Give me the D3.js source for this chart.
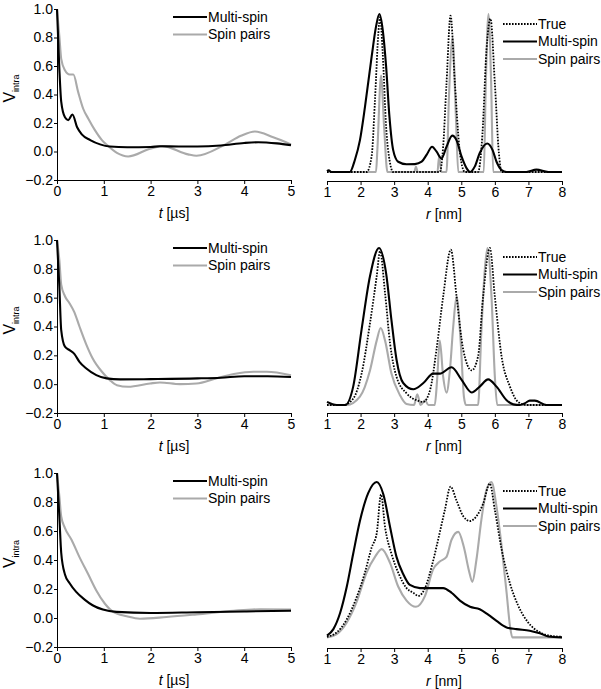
<!DOCTYPE html>
<html><head><meta charset="utf-8">
<script src="https://cdn.jsdelivr.net/npm/d3@7"></script>
<style>
body{margin:0;background:#fff;}
svg{display:block;font-family:"Liberation Sans",Arial,sans-serif;}
</style></head>
<body>
<svg id="chart" width="601" height="689"></svg>
<script>
// ---------- DATA ----------
const seriesNames = ["True", "Multi-spin", "Spin pairs"];
const tTicks = [0, 1, 2, 3, 4, 5];
const vTicks = [-0.2, 0.0, 0.2, 0.4, 0.6, 0.8, 1.0];
const rTicks = [1, 2, 3, 4, 5, 6, 7, 8];

// Row 1, time domain
const r1tMultiT = [0, 0.05, 0.09, 0.17, 0.24, 0.33, 0.43, 0.53, 0.71, 0.92, 1.13, 1.5, 2.0, 2.2, 2.6, 3.0, 3.5, 4.0, 4.3, 4.7, 5.0];
const r1tMultiV = [1.0, 0.58, 0.35, 0.24, 0.22, 0.26, 0.17, 0.12, 0.08, 0.05, 0.035, 0.03, 0.032, 0.037, 0.035, 0.035, 0.042, 0.06, 0.065, 0.057, 0.045];
const r1tPairsT = [0, 0.05, 0.09, 0.17, 0.27, 0.35, 0.45, 0.56, 0.67, 0.81, 0.96, 1.07, 1.28, 1.52, 1.99, 2.25, 2.8, 2.98, 3.57, 3.93, 4.23, 4.62, 5.0];
const r1tPairsV = [1.0, 0.81, 0.65, 0.57, 0.54, 0.54, 0.42, 0.30, 0.23, 0.15, 0.08, 0.045, -0.01, -0.035, 0.02, 0.038, -0.02, -0.03, 0.045, 0.11, 0.14, 0.10, 0.05];

// Row 1, distance domain
const r1rTrueR = [1.0, 2.18, 2.33, 2.43, 2.53, 2.58, 2.66, 2.76, 2.88, 2.97, 4.36, 4.46, 4.56, 4.68, 4.81, 4.94, 5.06, 5.11, 5.5, 5.63, 5.75, 5.87, 6.0, 6.12, 6.2, 8.0];
const r1rTrueV = [0, 0, 0.1, 0.46, 0.88, 0.98, 0.75, 0.29, 0.055, 0, 0, 0.16, 0.56, 0.99, 0.56, 0.16, 0.013, 0, 0, 0.24, 0.77, 0.97, 0.56, 0.12, 0, 0];
const r1rMultiR = [1.0, 1.05, 1.14, 1.68, 1.83, 1.98, 2.13, 2.33, 2.46, 2.56, 2.66, 2.76, 2.86, 2.97, 3.12, 3.37, 3.62, 3.82, 3.97, 4.13, 4.26, 4.41, 4.56, 4.73, 4.86, 5.01, 5.16, 5.26, 5.4, 5.55, 5.77, 5.93, 6.05, 6.2, 6.35, 6.94, 7.24, 7.59, 8.0];
const r1rMultiV = [0.005, 0.01, 0, 0, 0.076, 0.2, 0.41, 0.73, 0.92, 1.0, 0.9, 0.67, 0.35, 0.14, 0.065, 0.049, 0.05, 0.065, 0.11, 0.16, 0.13, 0.086, 0.16, 0.23, 0.2, 0.097, 0.023, 0, 0.034, 0.12, 0.18, 0.14, 0.065, 0.013, 0, 0, 0.015, 0, 0];
const r1rPairsR = [1.0, 2.46, 2.5, 2.61, 2.7, 2.8, 3.6, 3.65, 3.7, 4.29, 4.34, 4.41, 4.56, 4.63, 4.74, 4.84, 4.91, 5.67, 5.73, 5.81, 5.89, 5.95, 8.0];
const r1rPairsV = [0, 0, 0.14, 0.61, 0.29, 0, 0, 0.034, 0, 0, 0.1, 0, 0, 0.46, 0.85, 0.35, 0, 0, 0.56, 1.0, 0.56, 0, 0];

// Row 2, time domain
const r2tMultiT = [0, 0.05, 0.09, 0.17, 0.27, 0.37, 0.48, 0.62, 0.84, 1.06, 1.35, 2.0, 3.0, 3.5, 4.0, 4.5, 5.0];
const r2tMultiV = [1.0, 0.68, 0.375, 0.26, 0.236, 0.21, 0.155, 0.11, 0.063, 0.04, 0.033, 0.035, 0.04, 0.045, 0.055, 0.055, 0.05];
const r2tPairsT = [0, 0.05, 0.09, 0.17, 0.27, 0.37, 0.48, 0.62, 0.76, 0.96, 1.13, 1.28, 1.52, 1.99, 2.2, 2.63, 2.98, 3.4, 3.78, 4.2, 4.48, 5.0];
const r2tPairsV = [1.0, 0.86, 0.69, 0.61, 0.56, 0.50, 0.40, 0.28, 0.18, 0.086, 0.028, -0.007, -0.018, 0.005, 0.012, 0.0, 0.005, 0.04, 0.07, 0.086, 0.086, 0.062];

// Row 2, distance domain
const r2rTrueR = [1.0, 1.49, 1.78, 2.03, 2.28, 2.48, 2.58, 2.73, 2.88, 3.07, 3.37, 3.67, 3.87, 4.07, 4.26, 4.46, 4.69, 4.86, 5.06, 5.31, 5.5, 5.65, 5.85, 6.0, 6.2, 6.45, 6.69, 6.94, 8.0];
const r2rTrueV = [0, 0, 0.04, 0.2, 0.52, 0.82, 0.98, 0.71, 0.39, 0.18, 0.074, 0.03, 0.02, 0.095, 0.35, 0.69, 0.99, 0.69, 0.35, 0.22, 0.31, 0.69, 1.0, 0.69, 0.31, 0.117, 0.02, 0, 0];
const r2rMultiR = [1.0, 1.29, 1.54, 1.78, 2.03, 2.28, 2.55, 2.76, 2.92, 3.07, 3.27, 3.57, 3.87, 4.16, 4.36, 4.71, 5.01, 5.31, 5.55, 5.8, 6.05, 6.35, 6.55, 6.74, 6.9, 7.04, 7.19, 7.54, 8.0];
const r2rMultiV = [0.02, 0, 0, 0.117, 0.48, 0.82, 1.0, 0.84, 0.54, 0.29, 0.14, 0.10, 0.14, 0.20, 0.20, 0.24, 0.16, 0.08, 0.117, 0.163, 0.117, 0.03, 0.004, 0, 0.012, 0.028, 0.028, 0, 0];
const r2rPairsR = [1.0, 1.59, 1.98, 2.28, 2.48, 2.6, 2.73, 2.92, 3.17, 3.37, 3.59, 3.69, 3.79, 3.92, 4.02, 4.21, 4.28, 4.36, 4.46, 4.56, 4.66, 4.76, 4.86, 4.98, 5.08, 5.14, 5.5, 5.6, 5.7, 5.78, 5.9, 6.0, 6.07, 8.0];
const r2rPairsV = [0, 0, 0.053, 0.22, 0.41, 0.49, 0.41, 0.2, 0.064, 0.006, 0, 0.068, 0, 0.03, 0, 0, 0.16, 0.41, 0.18, 0.079, 0.22, 0.5, 0.69, 0.41, 0.05, 0, 0, 0.48, 0.86, 1.0, 0.69, 0.18, 0, 0];

// Row 3, time domain
const r3tMultiT = [0, 0.05, 0.09, 0.17, 0.27, 0.41, 0.59, 0.76, 0.98, 1.27, 2.0, 3.0, 4.0, 5.0];
const r3tMultiV = [1.0, 0.70, 0.45, 0.30, 0.24, 0.18, 0.127, 0.088, 0.058, 0.042, 0.035, 0.04, 0.045, 0.05];
const r3tPairsT = [0, 0.05, 0.09, 0.17, 0.31, 0.48, 0.67, 0.84, 1.02, 1.2, 1.49, 1.77, 2.34, 2.98, 3.78, 4.34, 5.0];
const r3tPairsV = [1.0, 0.84, 0.70, 0.62, 0.54, 0.42, 0.30, 0.19, 0.10, 0.042, 0.012, -0.005, 0.007, 0.025, 0.05, 0.06, 0.058];

// Row 3, distance domain
const r3rTrueR = [1.0, 1.29, 1.59, 1.88, 2.13, 2.33, 2.48, 2.61, 2.73, 2.92, 3.12, 3.37, 3.57, 3.72, 3.92, 4.12, 4.31, 4.51, 4.68, 4.86, 5.06, 5.26, 5.45, 5.65, 5.85, 6.0, 6.2, 6.45, 6.69, 6.99, 7.34, 7.64, 8.0];
const r3rTrueV = [0.008, 0.036, 0.12, 0.26, 0.42, 0.58, 0.67, 0.92, 0.71, 0.54, 0.42, 0.32, 0.29, 0.27, 0.32, 0.46, 0.63, 0.82, 0.97, 0.88, 0.78, 0.75, 0.78, 0.86, 0.99, 0.82, 0.57, 0.35, 0.21, 0.10, 0.036, 0.015, 0.008];
const r3rMultiR = [1.0, 1.19, 1.39, 1.59, 1.78, 1.98, 2.23, 2.48, 2.68, 2.88, 3.07, 3.27, 3.47, 3.77, 4.07, 4.46, 4.71, 4.96, 5.26, 5.55, 5.8, 6.05, 6.35, 6.64, 7.04, 7.34, 7.59, 8.0];
const r3rMultiV = [0.015, 0.057, 0.16, 0.33, 0.54, 0.75, 0.93, 1.0, 0.92, 0.71, 0.52, 0.41, 0.34, 0.32, 0.32, 0.32, 0.29, 0.24, 0.20, 0.184, 0.15, 0.11, 0.068, 0.057, 0.047, 0.03, 0.01, 0.004];
const r3rPairsR = [1.0, 1.29, 1.59, 1.88, 2.18, 2.43, 2.63, 2.88, 3.12, 3.37, 3.65, 3.92, 4.16, 4.36, 4.56, 4.71, 4.91, 5.08, 5.23, 5.33, 5.45, 5.6, 5.75, 5.9, 6.05, 6.2, 6.35, 6.45, 6.52, 8.0];
const r3rPairsV = [0.004, 0.025, 0.1, 0.23, 0.42, 0.52, 0.57, 0.48, 0.33, 0.24, 0.2, 0.27, 0.44, 0.49, 0.52, 0.63, 0.68, 0.58, 0.43, 0.36, 0.5, 0.76, 0.95, 1.0, 0.84, 0.59, 0.29, 0.078, 0.004, 0.004];

// ---------- DRAWING ----------
const svg = d3.select("#chart");
const FONT = 14;
const styles = {
  "True": {stroke: "#000", width: 1.8, dash: "1.6,1.4"},
  "Multi-spin": {stroke: "#000", width: 2.1, dash: null},
  "Spin pairs": {stroke: "#aaaaaa", width: 2.1, dash: null}
};
const zip = (xs, ys) => xs.map((x, i) => [x, ys[i]]);

function drawLine(g, x, y, data, name) {
  const st = styles[name];
  const line = d3.line().x(d => x(d[0])).y(d => y(d[1])).curve(d3.curveMonotoneX);
  g.append("path").datum(data)
    .attr("fill", "none").attr("stroke", st.stroke)
    .attr("stroke-width", st.width)
    .attr("stroke-dasharray", st.dash)
    .attr("stroke-linejoin", "round")
    .attr("d", line);
}

function legend(g, x0, y0, names, dy) {
  names.forEach((n, i) => {
    const st = styles[n];
    const yy = y0 + i * dy;
    g.append("line").attr("x1", x0).attr("x2", x0 + 34).attr("y1", yy).attr("y2", yy)
      .attr("stroke", st.stroke).attr("stroke-width", st.width).attr("stroke-dasharray", st.dash);
    g.append("text").attr("x", x0 + 35).attr("y", yy).attr("dy", "0.35em")
      .attr("font-size", 14).attr("fill", "#000").text(n);
  });
}

function styleAxis(a) {
  a.selectAll("text").attr("font-size", FONT).attr("fill", "#000").attr("font-family", '"Liberation Sans",Arial,sans-serif');
  a.selectAll("line").attr("stroke", "#000");
  a.select(".domain").attr("stroke", "#000");
}

function leftPanel(top, bottom, multi, pairs) {
  const g = svg.append("g");
  const x = d3.scaleLinear().domain([0, 5]).range([57, 291]);
  const y = d3.scaleLinear().domain([-0.2, 1.0]).range([bottom, top]);
  const ax = g.append("g").attr("transform", `translate(0,${bottom})`)
    .call(d3.axisBottom(x).tickValues(tTicks).tickFormat(d3.format("d")).tickSize(4).tickSizeOuter(0).tickPadding(2));
  styleAxis(ax);
  const ay = g.append("g").attr("transform", `translate(57,0)`)
    .call(d3.axisLeft(y).tickValues(vTicks).tickFormat(d3.format(".1f")).tickSize(3).tickSizeOuter(0).tickPadding(1));
  styleAxis(ay);
  drawLine(g, x, y, pairs, "Spin pairs");
  drawLine(g, x, y, multi, "Multi-spin");
  legend(g, 173, top + 8, ["Multi-spin", "Spin pairs"], 17.5);
  // y label
  const yl = g.append("text").attr("transform", `translate(15,${(top + bottom) / 2 - 6}) rotate(-90)`)
    .attr("text-anchor", "middle").attr("font-size", 16).attr("fill", "#000");
  yl.append("tspan").text("V");
  yl.append("tspan").attr("font-size", 9).attr("dy", 4).text("intra");
  // x label
  const xl = g.append("text").attr("x", 174).attr("y", bottom + 38).attr("text-anchor", "middle")
    .attr("font-size", FONT).attr("fill", "#000");
  xl.append("tspan").attr("font-style", "italic").text("t");
  xl.append("tspan").text(" [µs]");
}

function rightPanel(zeroY, oneY, axisY, legTop, tr, multi, pairs) {
  const g = svg.append("g");
  const x = d3.scaleLinear().domain([1, 8]).range([327, 562]);
  const y = d3.scaleLinear().domain([0, 1]).range([zeroY, oneY]);
  const ax = g.append("g").attr("transform", `translate(0,${axisY})`)
    .call(d3.axisBottom(x).tickValues(rTicks).tickFormat(d3.format("d")).tickSize(4).tickSizeOuter(0).tickPadding(2));
  styleAxis(ax);
  drawLine(g, x, y, pairs, "Spin pairs");
  drawLine(g, x, y, multi, "Multi-spin");
  drawLine(g, x, y, tr, "True");
  legend(g, 503, legTop, seriesNames, 17.5);
  const xl = g.append("text").attr("x", 444).attr("y", axisY + 38).attr("text-anchor", "middle")
    .attr("font-size", FONT).attr("fill", "#000");
  xl.append("tspan").attr("font-style", "italic").text("r");
  xl.append("tspan").text(" [nm]");
}

leftPanel(9, 180, zip(r1tMultiT, r1tMultiV), zip(r1tPairsT, r1tPairsV));
leftPanel(240, 413, zip(r2tMultiT, r2tMultiV), zip(r2tPairsT, r2tPairsV));
leftPanel(473, 647, zip(r3tMultiT, r3tMultiV), zip(r3tPairsT, r3tPairsV));

rightPanel(172, 14, 181, 24, zip(r1rTrueR, r1rTrueV), zip(r1rMultiR, r1rMultiV), zip(r1rPairsR, r1rPairsV));
rightPanel(405, 248, 413, 257, zip(r2rTrueR, r2rTrueV), zip(r2rMultiR, r2rMultiV), zip(r2rPairsR, r2rPairsV));
rightPanel(638, 482, 648, 491, zip(r3rTrueR, r3rTrueV), zip(r3rMultiR, r3rMultiV), zip(r3rPairsR, r3rPairsV));
</script>
</body></html>
